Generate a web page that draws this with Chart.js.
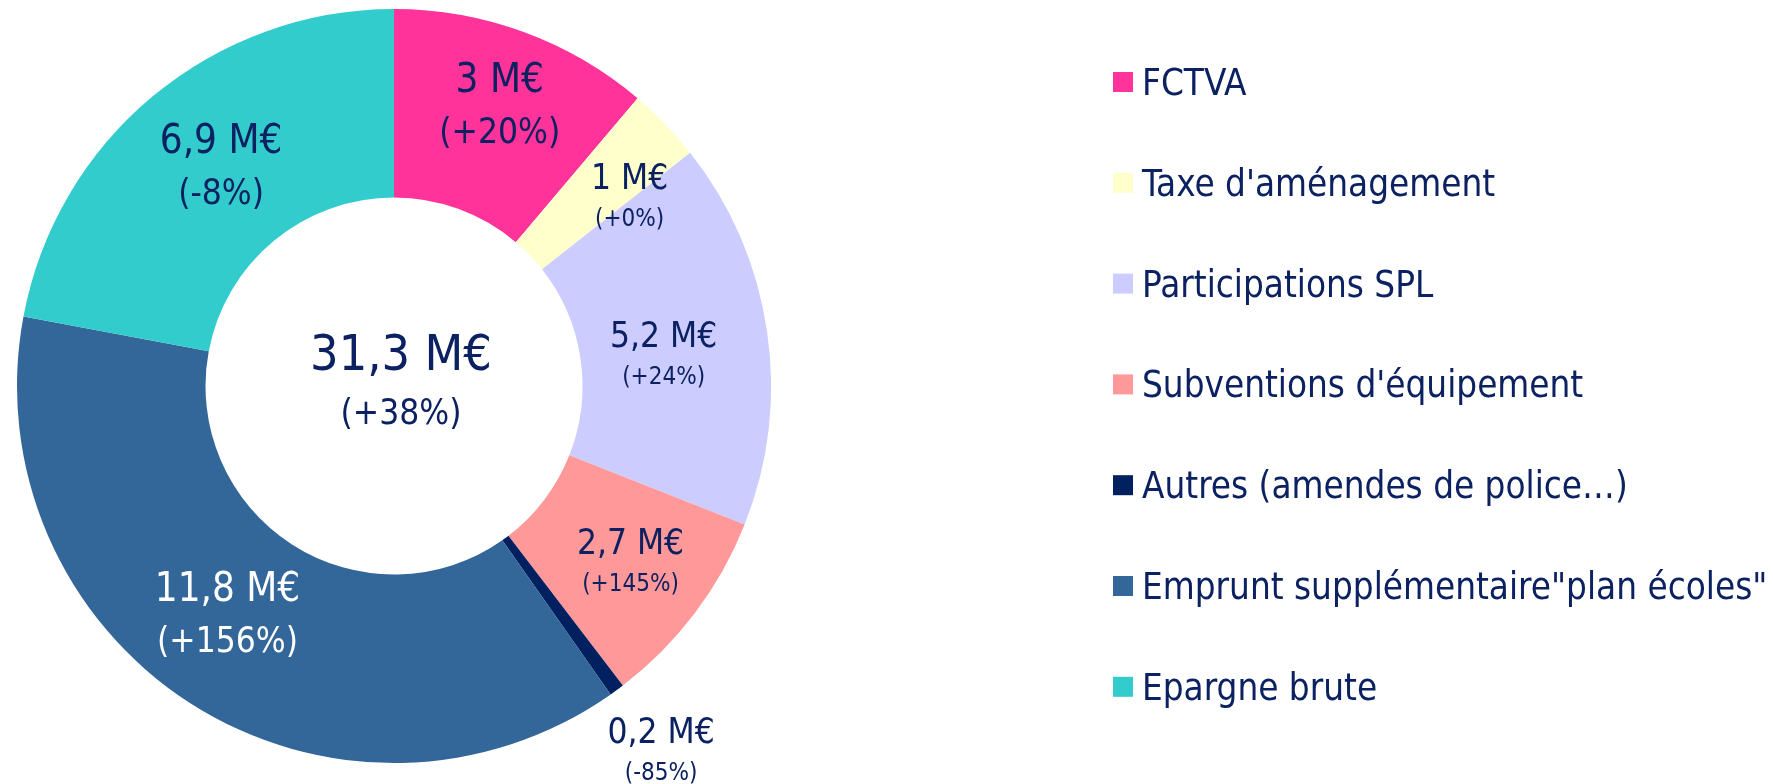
<!DOCTYPE html>
<html><head><meta charset="utf-8">
<script src="https://cdn.jsdelivr.net/npm/chart.js@4.4.1/dist/chart.umd.min.js"></script>
<style>html,body{margin:0;padding:0;background:#fff;overflow:hidden}</style>
</head><body>
<canvas id="c" width="1773" height="784"></canvas>
<script>
// ---- data ----
const categories = ["FCTVA", "Taxe d'aménagement", "Participations SPL", "Subventions d'équipement",
  "Autres (amendes de police…)", "Emprunt supplémentaire\"plan écoles\"", "Epargne brute"];
const values = [3.5, 1, 5.2, 2.7, 0.2, 11.8, 6.9];
const valueLabels = ["3 M€", "1 M€", "5,2 M€", "2,7 M€", "0,2 M€", "11,8 M€", "6,9 M€"];
const changeLabels = ["(+20%)", "(+0%)", "(+24%)", "(+145%)", "(-85%)", "(+156%)", "(-8%)"];
const totalLabel = "31,3 M€";
const totalChange = "(+38%)";

// ---- styles ----
const colors = ["#FF3399", "#FFFFCC", "#CCCCFF", "#FF9999", "#002060", "#336699", "#33CCCC"];
const TEXT = "#0B2161";
const FONT = "'DejaVu Sans Condensed', 'DejaVu Sans', sans-serif";
const size1 = [40, 35, 35, 35, 35, 40, 40];
const size2 = [35, 24, 24, 24, 24, 35, 35];
const labelColor = [TEXT, TEXT, TEXT, TEXT, TEXT, "#FFFFFF", TEXT];
// small label nudges (px) relative to the slice's label anchor
const labelNudgeX = [5, 25, -20, 3, 0, -8, 14];
const labelNudgeY = [-7, 14, 11, -1, 0, -19, 4];
const DIGIT_MID = 0.364; // digit centre above baseline, in em

const labelPlugin = {
  id: 'labels',
  afterDatasetsDraw(chart) {
    const ctx = chart.ctx;
    const meta = chart.getDatasetMeta(0);
    ctx.save();
    ctx.textAlign = 'center';
    ctx.textBaseline = 'alphabetic';
    let cxC = 0, cyC = 0;
    meta.data.forEach((arc, i) => {
      const p = arc.getProps(['startAngle', 'endAngle', 'innerRadius', 'outerRadius', 'x', 'y'], true);
      cxC = p.x; cyC = p.y;
      const mid = (p.startAngle + p.endAngle) / 2;
      const r = i === 4 ? p.outerRadius + 75 : (p.innerRadius + p.outerRadius) / 2 + 10;
      const cx = p.x + Math.cos(mid) * r + labelNudgeX[i];
      const cy = p.y + Math.sin(mid) * r + labelNudgeY[i];
      const gap = (size1[i] + size2[i]) * 0.7;
      ctx.fillStyle = labelColor[i];
      ctx.font = size1[i] + 'px ' + FONT;
      ctx.fillText(valueLabels[i], cx, cy - gap / 2 + size1[i] * DIGIT_MID);
      ctx.font = size2[i] + 'px ' + FONT;
      ctx.fillText(changeLabels[i], cx, cy + gap / 2 + size2[i] * DIGIT_MID);
    });
    ctx.fillStyle = TEXT;
    ctx.font = '50px ' + FONT;
    ctx.fillText(totalLabel, cxC + 7, cyC - 34 + 50 * DIGIT_MID);
    ctx.font = '35px ' + FONT;
    ctx.fillText(totalChange, cxC + 7, cyC + 25 + 35 * DIGIT_MID);
    ctx.restore();
  }
};

const legendPlugin = {
  id: 'sideLegend',
  afterDraw(chart) {
    const ctx = chart.ctx;
    ctx.save();
    ctx.font = '36.5px ' + FONT;
    ctx.textAlign = 'left';
    ctx.textBaseline = 'alphabetic';
    categories.forEach((name, i) => {
      const y = 82 + i * 100.8;
      ctx.fillStyle = colors[i];
      ctx.fillRect(1113, y - 10, 20, 20);
      ctx.fillStyle = TEXT;
      ctx.fillText(name, 1142, y + 13);
    });
    ctx.restore();
  }
};

new Chart(document.getElementById('c'), {
  type: 'doughnut',
  data: {
    labels: categories,
    datasets: [{ data: values, backgroundColor: colors, borderWidth: 0 }]
  },
  options: {
    responsive: false,
    animation: false,
    devicePixelRatio: 1,
    cutout: '50%',
    layout: { padding: { left: 17, top: 9, bottom: 21, right: 1002 } },
    plugins: { legend: { display: false }, tooltip: { enabled: false } }
  },
  plugins: [labelPlugin, legendPlugin]
});
</script>
</body></html>
